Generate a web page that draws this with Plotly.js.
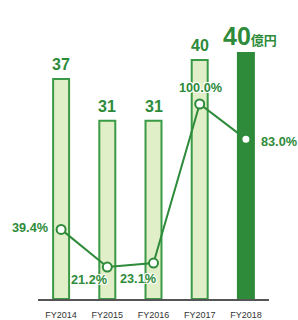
<!DOCTYPE html>
<html>
<head>
<meta charset="utf-8">
<script src="https://cdn.plot.ly/plotly-3.0.1.min.js"></script>
<style>
html,body{margin:0;padding:0;background:#fff;}
#chart{width:298px;height:320px;}
</style>
</head>
<body>
<div id="chart"></div>
<script>
// Data
var categories = ["FY2014", "FY2015", "FY2016", "FY2017", "FY2018"];
var sales = [37.3, 30.2, 30.2, 40.5, 41.7];           // bar heights (億円) as drawn
var salesLabels = ["37", "31", "31", "40", "40"];      // printed labels
var unitLabel = "億円";
var ratio = [39.4, 21.2, 23.1, 100.0, 83.0];           // %
var ratioLabels = ["39.4%", "21.2%", "23.1%", "100.0%", "83.0%"];

var GREEN = "#2e8b3a";
var LIGHT = "#e0efc8";
var OUTL = "#3a9a45";
var FONT = "Liberation Sans, Arial, sans-serif";
var last = categories.length - 1;

var barColors = categories.map(function(c, i){ return i === last ? GREEN : LIGHT; });
var barLines = categories.map(function(c, i){ return i === last ? GREEN : OUTL; });

var traces = [
  {
    type: "bar",
    x: categories,
    y: sales,
    marker: {color: barColors, line: {color: barLines, width: 2}},
    hoverinfo: "skip",
    yaxis: "y"
  },
  {
    type: "scatter",
    mode: "lines+markers",
    x: categories,
    y: ratio,
    yaxis: "y2",
    line: {color: GREEN, width: 2},
    marker: {size: 9, color: "#ffffff", line: {color: GREEN, width: 2}},
    hoverinfo: "skip",
    cliponaxis: false
  }
];

var annotations = [];
// bar value labels
categories.forEach(function(c, i){
  var txt = salesLabels[i];
  var fs = 16, ys = 4;
  if (i === last) {
    txt = "<span style='font-size:25px'>" + salesLabels[i] + "</span><span style='font-family:Noto Sans CJK JP;font-size:13px'>" + unitLabel + "</span>";
    fs = 13; ys = 1;
  }
  annotations.push({
    x: c, y: sales[i], xref: "x", yref: "y",
    text: "<b>" + txt + "</b>",
    showarrow: false, yanchor: "bottom", xanchor: "center",
    xshift: i === last ? 4 : 0, yshift: ys,
    font: {family: FONT, size: fs, color: GREEN}
  });
});
// percent labels
var pShift = [
  {xa: "right", ya: "middle", xs: -11, ys: 1},
  {xa: "center", ya: "middle", xs: -18, ys: -13},
  {xa: "center", ya: "middle", xs: -16, ys: -16},
  {xa: "center", ya: "middle", xs: 1, ys: 16},
  {xa: "left", ya: "middle", xs: 13, ys: -3}
];
var halo = "1px 1px 0px #fff, -1px -1px 0px #fff, 1px -1px 0px #fff, -1px 1px 0px #fff";
categories.forEach(function(c, i){
  annotations.push({
    x: c, y: ratio[i], xref: "x", yref: "y2",
    text: "<b>" + ratioLabels[i] + "</b>",
    showarrow: false, xanchor: pShift[i].xa, yanchor: pShift[i].ya,
    xshift: pShift[i].xs, yshift: pShift[i].ys,
    font: {family: FONT, size: 12.7, color: GREEN, shadow: halo}
  });
});

var layout = {
  width: 298, height: 320,
  margin: {l: 38, r: 29, t: 20, b: 21, pad: 0},
  paper_bgcolor: "#ffffff",
  plot_bgcolor: "#ffffff",
  showlegend: false,
  bargap: 0.654,
  xaxis: {
    type: "category",
    range: [-0.5, 4.5],
    showline: true, linecolor: "#555555", linewidth: 1.5,
    ticks: "", showgrid: false, zeroline: false,
    tickfont: {family: FONT, size: 9, color: "#333333"},
    ticklabelstandoff: 7,
    fixedrange: true
  },
  yaxis: {
    range: [0, 47.3],
    visible: false, showgrid: false, zeroline: false,
    fixedrange: true
  },
  yaxis2: {
    range: [5.75, 140.6],
    overlaying: "y", side: "right",
    visible: false, showgrid: false, zeroline: false,
    fixedrange: true
  },
  annotations: annotations
};

Plotly.newPlot("chart", traces, layout, {displayModeBar: false, staticPlot: true});
</script>
</body>
</html>
